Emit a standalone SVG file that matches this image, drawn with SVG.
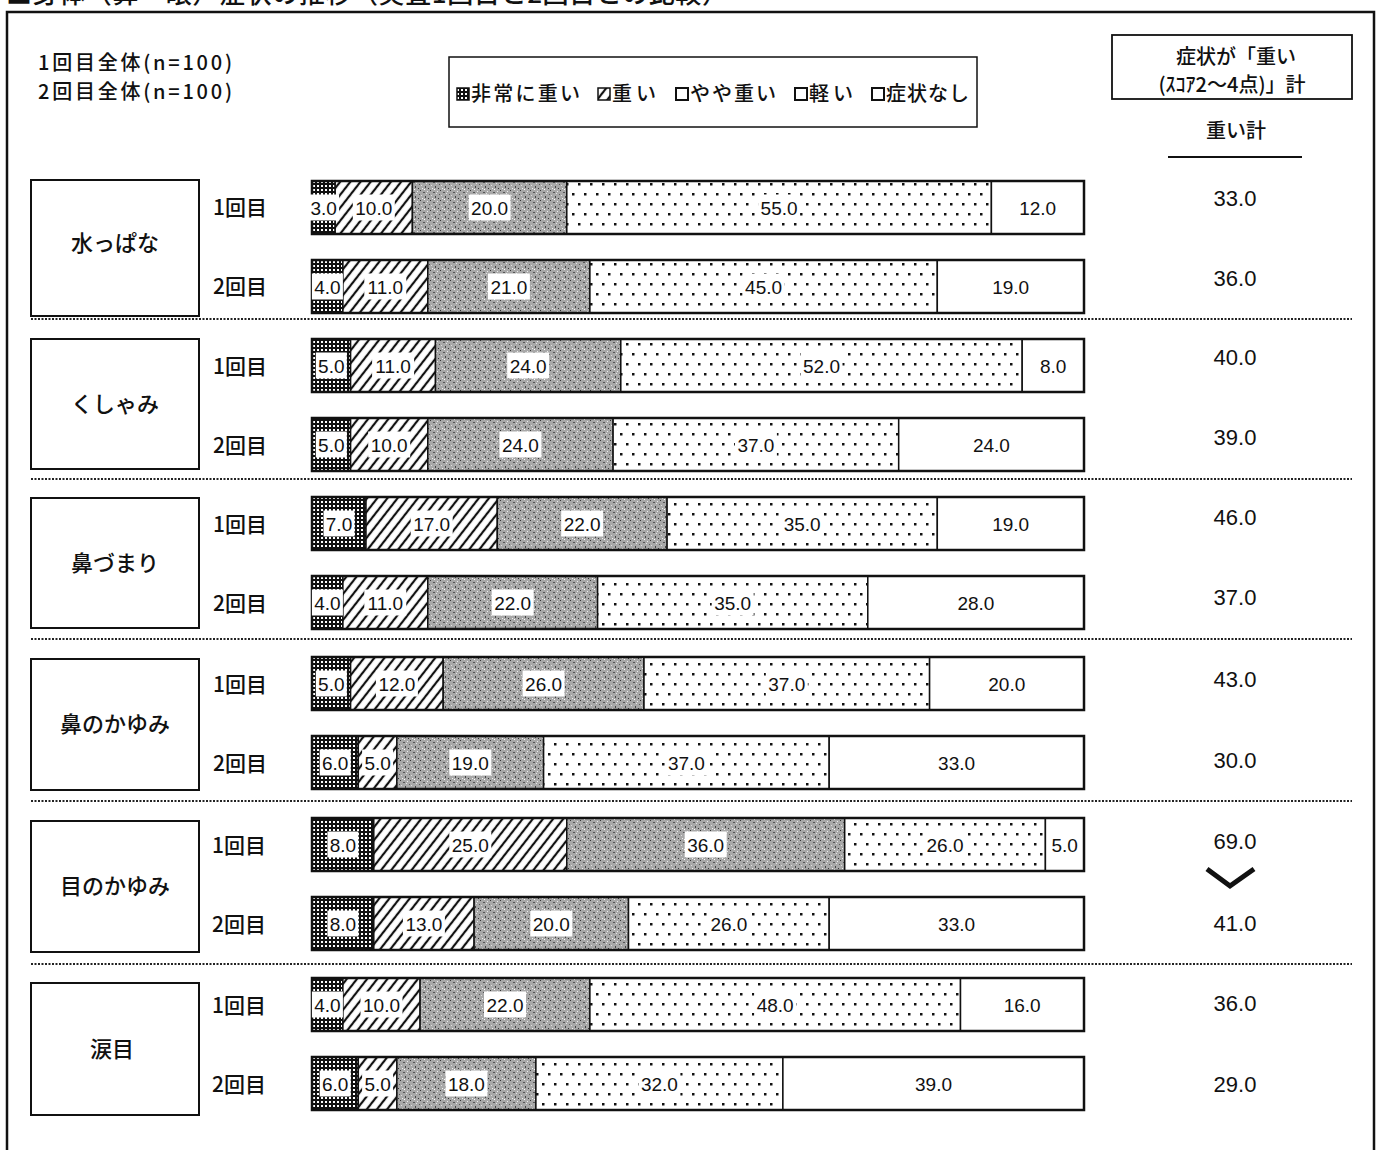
<svg xmlns="http://www.w3.org/2000/svg" width="1381" height="1150" viewBox="0 0 1381 1150">
<defs>
<pattern id="pDark" width="4" height="4" patternUnits="userSpaceOnUse"><rect width="4" height="4" fill="#111"/><rect x="1" y="1" width="2" height="2" fill="#fff"/></pattern>
<pattern id="pHatch" width="8" height="8" patternUnits="userSpaceOnUse" patternTransform="rotate(38)"><rect width="8" height="8" fill="#fff"/><line x1="4" y1="0" x2="4" y2="8" stroke="#111" stroke-width="2.2"/></pattern>
<pattern id="pGray" width="10" height="10" patternUnits="userSpaceOnUse"><rect width="10" height="10" fill="#a8a8a8"/><rect x="0" y="0" width="1" height="1" fill="#333"/><rect x="3" y="2" width="2" height="1" fill="#555"/><rect x="7" y="1" width="1" height="1" fill="#eee"/><rect x="1" y="5" width="1" height="1" fill="#e0e0e0"/><rect x="5" y="6" width="1" height="2" fill="#444"/><rect x="8" y="8" width="1" height="1" fill="#333"/><rect x="2" y="8" width="1" height="1" fill="#f2f2f2"/><rect x="9" y="4" width="1" height="1" fill="#555"/><rect x="6" y="3" width="1" height="1" fill="#e6e6e6"/><rect x="4" y="9" width="1" height="1" fill="#fff"/></pattern>
<pattern id="pDots" width="12" height="20" patternUnits="userSpaceOnUse"><rect width="12" height="20" fill="#fff"/><rect x="2" y="3" width="2.5" height="2.5" fill="#111"/><rect x="8" y="13" width="2.5" height="2.5" fill="#111"/></pattern>
<style>
.jp{font-family:"Noto Sans CJK JP",sans-serif;fill:#111;font-weight:500}
.v{font-family:"Liberation Sans",Arial,sans-serif;font-size:19px;text-anchor:middle;fill:#111}
.tot{font-family:"Liberation Sans",Arial,sans-serif;font-size:22px;text-anchor:middle;fill:#111}
.s1{fill:url(#pDark);stroke:#111;stroke-width:1.5}
.s2{fill:url(#pHatch);stroke:#111;stroke-width:1.5}
.s3{fill:url(#pGray);stroke:#111;stroke-width:1.5}
.s4{fill:url(#pDots);stroke:#111;stroke-width:1.5}
.s5{fill:#fff;stroke:#111;stroke-width:1.5}
.bar{fill:none;stroke:#111;stroke-width:2.5}
.lb{fill:#fff}
.box{fill:#fff;stroke:#111;stroke-width:2}
.sep{stroke:#222;stroke-width:2;stroke-dasharray:2 1.5}
.rnd{font-family:"Noto Sans CJK JP",sans-serif;font-size:21px;fill:#111;font-weight:500}
.cat{font-family:"Noto Sans CJK JP",sans-serif;font-size:22px;fill:#111;text-anchor:middle;font-weight:500}
</style>
</defs>
<rect width="1381" height="1150" fill="#fff"/>
<text class="jp" x="6" y="3" font-size="26" textLength="722">■身体（鼻・眼）症状の推移（実査1回目と2回目との比較）</text>
<g id="frame"><path d="M7 1150 V12 H1374 V1150" fill="none" stroke="#111" stroke-width="2.5"/></g>
<g id="header">
<text class="jp" x="38" y="70" font-size="20" textLength="194">1回目全体(n=100)</text>
<text class="jp" x="38" y="99" font-size="20" textLength="194">2回目全体(n=100)</text>
</g>
<g id="legend">
<rect x="449" y="57" width="528" height="70" fill="#fff" stroke="#111" stroke-width="1.5"/>
<rect x="457" y="88" width="12" height="12" fill="url(#pDark)" stroke="#111" stroke-width="1.5"/>
<text class="jp" x="471" y="101" font-size="20" textLength="109">非常に重い</text>
<rect x="598" y="88" width="12" height="12" fill="url(#pHatch)" stroke="#111" stroke-width="1.5"/>
<text class="jp" x="612" y="101" font-size="20" textLength="44">重い</text>
<rect x="676" y="88" width="12" height="12" fill="#fff" stroke="#111" stroke-width="2"/>
<text class="jp" x="690" y="101" font-size="20" textLength="86">やや重い</text>
<rect x="795" y="88" width="12" height="12" fill="#fff" stroke="#111" stroke-width="2"/>
<text class="jp" x="809" y="101" font-size="20" textLength="44">軽い</text>
<rect x="872" y="88" width="12" height="12" fill="#fff" stroke="#111" stroke-width="2"/>
<text class="jp" x="886" y="101" font-size="20" textLength="83">症状なし</text>
</g>
<g id="total-header">
<rect x="1112" y="35" width="240" height="64" fill="#fff" stroke="#111" stroke-width="1.8"/>
<text class="jp" x="1236" y="64" font-size="20" text-anchor="middle">症状が「重い</text>
<text class="jp" x="1232" y="92" font-size="20" text-anchor="middle">(ｽｺｱ2〜4点)」計</text>
<text class="jp" x="1236" y="138" font-size="20" text-anchor="middle">重い計</text>
<line x1="1168" y1="157" x2="1302" y2="157" stroke="#111" stroke-width="2"/>
</g>
<g id="connectors">
<line class="sep" x1="31" y1="319" x2="1352" y2="319"/>
<line class="sep" x1="31" y1="479" x2="1352" y2="479"/>
<line class="sep" x1="31" y1="639" x2="1352" y2="639"/>
<line class="sep" x1="31" y1="801" x2="1352" y2="801"/>
<line class="sep" x1="31" y1="964" x2="1352" y2="964"/>
<polyline points="1207,869 1230,886 1254,869" fill="none" stroke="#111" stroke-width="5"/>
</g>

<g id="g1">
<rect class="box" x="31" y="180" width="168" height="136"/>
<text class="cat" x="115" y="251">水っぱな</text>
<text class="rnd" x="213" y="215">1回目</text>
<text class="rnd" x="213" y="294">2回目</text>
<rect class="s1" x="312" y="181" width="23.2" height="53"/><rect class="s2" x="335.2" y="181" width="77.2" height="53"/><rect class="s3" x="412.4" y="181" width="154.4" height="53"/><rect class="s4" x="566.8" y="181" width="424.6" height="53"/><rect class="s5" x="991.4" y="181" width="92.6" height="53"/><rect class="bar" x="312" y="181" width="772" height="53"/>
<rect class="lb" x="308.1" y="194.5" width="31" height="26"/><text class="v" x="323.6" y="214.5">3.0</text>
<rect class="lb" x="352.8" y="194.5" width="42" height="26"/><text class="v" x="373.8" y="214.5">10.0</text>
<rect class="lb" x="468.6" y="194.5" width="42" height="26"/><text class="v" x="489.6" y="214.5">20.0</text>
<rect class="lb" x="758.1" y="194.5" width="42" height="26"/><text class="v" x="779.1" y="214.5">55.0</text>
<text class="v" x="1037.7" y="214.5">12.0</text>
<rect class="s1" x="312" y="260" width="30.9" height="53"/><rect class="s2" x="342.9" y="260" width="84.9" height="53"/><rect class="s3" x="427.8" y="260" width="162.1" height="53"/><rect class="s4" x="589.9" y="260" width="347.4" height="53"/><rect class="s5" x="937.3" y="260" width="146.7" height="53"/><rect class="bar" x="312" y="260" width="772" height="53"/>
<rect class="lb" x="311.9" y="273.5" width="31" height="26"/><text class="v" x="327.4" y="293.5">4.0</text>
<rect class="lb" x="364.3" y="273.5" width="42" height="26"/><text class="v" x="385.3" y="293.5">11.0</text>
<rect class="lb" x="487.9" y="273.5" width="42" height="26"/><text class="v" x="508.9" y="293.5">21.0</text>
<rect class="lb" x="742.6" y="273.5" width="42" height="26"/><text class="v" x="763.6" y="293.5">45.0</text>
<text class="v" x="1010.7" y="293.5">19.0</text>
<text class="tot" x="1235" y="206">33.0</text>
<text class="tot" x="1235" y="286">36.0</text>
</g>

<g id="g2">
<rect class="box" x="31" y="339" width="168" height="130"/>
<text class="cat" x="115" y="412">くしゃみ</text>
<text class="rnd" x="213" y="374">1回目</text>
<text class="rnd" x="213" y="453">2回目</text>
<rect class="s1" x="312" y="339" width="38.6" height="53"/><rect class="s2" x="350.6" y="339" width="84.9" height="53"/><rect class="s3" x="435.5" y="339" width="185.3" height="53"/><rect class="s4" x="620.8" y="339" width="401.4" height="53"/><rect class="s5" x="1022.2" y="339" width="61.8" height="53"/><rect class="bar" x="312" y="339" width="772" height="53"/>
<rect class="lb" x="315.8" y="352.5" width="31" height="26"/><text class="v" x="331.3" y="372.5">5.0</text>
<rect class="lb" x="372.1" y="352.5" width="42" height="26"/><text class="v" x="393.1" y="372.5">11.0</text>
<rect class="lb" x="507.2" y="352.5" width="42" height="26"/><text class="v" x="528.2" y="372.5">24.0</text>
<rect class="lb" x="800.5" y="352.5" width="42" height="26"/><text class="v" x="821.5" y="372.5">52.0</text>
<text class="v" x="1053.1" y="372.5">8.0</text>
<rect class="s1" x="312" y="418" width="38.6" height="53"/><rect class="s2" x="350.6" y="418" width="77.2" height="53"/><rect class="s3" x="427.8" y="418" width="185.3" height="53"/><rect class="s4" x="613.1" y="418" width="285.6" height="53"/><rect class="s5" x="898.7" y="418" width="185.3" height="53"/><rect class="bar" x="312" y="418" width="772" height="53"/>
<rect class="lb" x="315.8" y="431.5" width="31" height="26"/><text class="v" x="331.3" y="451.5">5.0</text>
<rect class="lb" x="368.2" y="431.5" width="42" height="26"/><text class="v" x="389.2" y="451.5">10.0</text>
<rect class="lb" x="499.4" y="431.5" width="42" height="26"/><text class="v" x="520.4" y="451.5">24.0</text>
<rect class="lb" x="734.9" y="431.5" width="42" height="26"/><text class="v" x="755.9" y="451.5">37.0</text>
<text class="v" x="991.4" y="451.5">24.0</text>
<text class="tot" x="1235" y="365">40.0</text>
<text class="tot" x="1235" y="445">39.0</text>
</g>

<g id="g3">
<rect class="box" x="31" y="498" width="168" height="130"/>
<text class="cat" x="115" y="571">鼻づまり</text>
<text class="rnd" x="213" y="532">1回目</text>
<text class="rnd" x="213" y="611">2回目</text>
<rect class="s1" x="312" y="497" width="54" height="53"/><rect class="s2" x="366" y="497" width="131.3" height="53"/><rect class="s3" x="497.3" y="497" width="169.8" height="53"/><rect class="s4" x="667.1" y="497" width="270.2" height="53"/><rect class="s5" x="937.3" y="497" width="146.7" height="53"/><rect class="bar" x="312" y="497" width="772" height="53"/>
<rect class="lb" x="323.5" y="510.5" width="31" height="26"/><text class="v" x="339" y="530.5">7.0</text>
<rect class="lb" x="410.7" y="510.5" width="42" height="26"/><text class="v" x="431.7" y="530.5">17.0</text>
<rect class="lb" x="561.2" y="510.5" width="42" height="26"/><text class="v" x="582.2" y="530.5">22.0</text>
<rect class="lb" x="781.2" y="510.5" width="42" height="26"/><text class="v" x="802.2" y="530.5">35.0</text>
<text class="v" x="1010.7" y="530.5">19.0</text>
<rect class="s1" x="312" y="576" width="30.9" height="53"/><rect class="s2" x="342.9" y="576" width="84.9" height="53"/><rect class="s3" x="427.8" y="576" width="169.8" height="53"/><rect class="s4" x="597.6" y="576" width="270.2" height="53"/><rect class="s5" x="867.8" y="576" width="216.2" height="53"/><rect class="bar" x="312" y="576" width="772" height="53"/>
<rect class="lb" x="311.9" y="589.5" width="31" height="26"/><text class="v" x="327.4" y="609.5">4.0</text>
<rect class="lb" x="364.3" y="589.5" width="42" height="26"/><text class="v" x="385.3" y="609.5">11.0</text>
<rect class="lb" x="491.7" y="589.5" width="42" height="26"/><text class="v" x="512.7" y="609.5">22.0</text>
<rect class="lb" x="711.7" y="589.5" width="42" height="26"/><text class="v" x="732.7" y="609.5">35.0</text>
<text class="v" x="975.9" y="609.5">28.0</text>
<text class="tot" x="1235" y="525">46.0</text>
<text class="tot" x="1235" y="605">37.0</text>
</g>

<g id="g4">
<rect class="box" x="31" y="659" width="168" height="131"/>
<text class="cat" x="115" y="732">鼻のかゆみ</text>
<text class="rnd" x="213" y="692">1回目</text>
<text class="rnd" x="213" y="771">2回目</text>
<rect class="s1" x="312" y="657" width="38.6" height="53"/><rect class="s2" x="350.6" y="657" width="92.6" height="53"/><rect class="s3" x="443.2" y="657" width="200.8" height="53"/><rect class="s4" x="644" y="657" width="285.6" height="53"/><rect class="s5" x="929.6" y="657" width="154.4" height="53"/><rect class="bar" x="312" y="657" width="772" height="53"/>
<rect class="lb" x="315.8" y="670.5" width="31" height="26"/><text class="v" x="331.3" y="690.5">5.0</text>
<rect class="lb" x="375.9" y="670.5" width="42" height="26"/><text class="v" x="396.9" y="690.5">12.0</text>
<rect class="lb" x="522.6" y="670.5" width="42" height="26"/><text class="v" x="543.6" y="690.5">26.0</text>
<rect class="lb" x="765.8" y="670.5" width="42" height="26"/><text class="v" x="786.8" y="690.5">37.0</text>
<text class="v" x="1006.8" y="690.5">20.0</text>
<rect class="s1" x="312" y="736" width="46.3" height="53"/><rect class="s2" x="358.3" y="736" width="38.6" height="53"/><rect class="s3" x="396.9" y="736" width="146.7" height="53"/><rect class="s4" x="543.6" y="736" width="285.6" height="53"/><rect class="s5" x="829.2" y="736" width="254.8" height="53"/><rect class="bar" x="312" y="736" width="772" height="53"/>
<rect class="lb" x="319.7" y="749.5" width="31" height="26"/><text class="v" x="335.2" y="769.5">6.0</text>
<rect class="lb" x="362.1" y="749.5" width="31" height="26"/><text class="v" x="377.6" y="769.5">5.0</text>
<rect class="lb" x="449.3" y="749.5" width="42" height="26"/><text class="v" x="470.3" y="769.5">19.0</text>
<rect class="lb" x="665.4" y="749.5" width="42" height="26"/><text class="v" x="686.4" y="769.5">37.0</text>
<text class="v" x="956.6" y="769.5">33.0</text>
<text class="tot" x="1235" y="687">43.0</text>
<text class="tot" x="1235" y="768">30.0</text>
</g>

<g id="g5">
<rect class="box" x="31" y="821" width="168" height="131"/>
<text class="cat" x="115" y="894">目のかゆみ</text>
<text class="rnd" x="212" y="853">1回目</text>
<text class="rnd" x="212" y="932">2回目</text>
<rect class="s1" x="312" y="818" width="61.8" height="53"/><rect class="s2" x="373.8" y="818" width="193" height="53"/><rect class="s3" x="566.8" y="818" width="277.9" height="53"/><rect class="s4" x="844.7" y="818" width="200.7" height="53"/><rect class="s5" x="1045.4" y="818" width="38.6" height="53"/><rect class="bar" x="312" y="818" width="772" height="53"/>
<rect class="lb" x="327.4" y="831.5" width="31" height="26"/><text class="v" x="342.9" y="851.5">8.0</text>
<rect class="lb" x="449.3" y="831.5" width="42" height="26"/><text class="v" x="470.3" y="851.5">25.0</text>
<rect class="lb" x="684.7" y="831.5" width="42" height="26"/><text class="v" x="705.7" y="851.5">36.0</text>
<rect class="lb" x="924" y="831.5" width="42" height="26"/><text class="v" x="945" y="851.5">26.0</text>
<text class="v" x="1064.7" y="851.5">5.0</text>
<rect class="s1" x="312" y="897" width="61.8" height="53"/><rect class="s2" x="373.8" y="897" width="100.3" height="53"/><rect class="s3" x="474.1" y="897" width="154.4" height="53"/><rect class="s4" x="628.5" y="897" width="200.7" height="53"/><rect class="s5" x="829.2" y="897" width="254.8" height="53"/><rect class="bar" x="312" y="897" width="772" height="53"/>
<rect class="lb" x="327.4" y="910.5" width="31" height="26"/><text class="v" x="342.9" y="930.5">8.0</text>
<rect class="lb" x="402.9" y="910.5" width="42" height="26"/><text class="v" x="423.9" y="930.5">13.0</text>
<rect class="lb" x="530.3" y="910.5" width="42" height="26"/><text class="v" x="551.3" y="930.5">20.0</text>
<rect class="lb" x="707.9" y="910.5" width="42" height="26"/><text class="v" x="728.9" y="930.5">26.0</text>
<text class="v" x="956.6" y="930.5">33.0</text>
<text class="tot" x="1235" y="849">69.0</text>
<text class="tot" x="1235" y="931">41.0</text>
</g>

<g id="g6">
<rect class="box" x="31" y="983" width="168" height="132"/>
<text class="cat" x="112" y="1057">涙目</text>
<text class="rnd" x="212" y="1013">1回目</text>
<text class="rnd" x="212" y="1092">2回目</text>
<rect class="s1" x="312" y="978" width="30.9" height="53"/><rect class="s2" x="342.9" y="978" width="77.2" height="53"/><rect class="s3" x="420.1" y="978" width="169.8" height="53"/><rect class="s4" x="589.9" y="978" width="370.6" height="53"/><rect class="s5" x="960.5" y="978" width="123.5" height="53"/><rect class="bar" x="312" y="978" width="772" height="53"/>
<rect class="lb" x="311.9" y="991.5" width="31" height="26"/><text class="v" x="327.4" y="1011.5">4.0</text>
<rect class="lb" x="360.5" y="991.5" width="42" height="26"/><text class="v" x="381.5" y="1011.5">10.0</text>
<rect class="lb" x="484" y="991.5" width="42" height="26"/><text class="v" x="505" y="1011.5">22.0</text>
<rect class="lb" x="754.2" y="991.5" width="42" height="26"/><text class="v" x="775.2" y="1011.5">48.0</text>
<text class="v" x="1022.2" y="1011.5">16.0</text>
<rect class="s1" x="312" y="1057" width="46.3" height="53"/><rect class="s2" x="358.3" y="1057" width="38.6" height="53"/><rect class="s3" x="396.9" y="1057" width="139" height="53"/><rect class="s4" x="535.9" y="1057" width="247" height="53"/><rect class="s5" x="782.9" y="1057" width="301.1" height="53"/><rect class="bar" x="312" y="1057" width="772" height="53"/>
<rect class="lb" x="319.7" y="1070.5" width="31" height="26"/><text class="v" x="335.2" y="1090.5">6.0</text>
<rect class="lb" x="362.1" y="1070.5" width="31" height="26"/><text class="v" x="377.6" y="1090.5">5.0</text>
<rect class="lb" x="445.4" y="1070.5" width="42" height="26"/><text class="v" x="466.4" y="1090.5">18.0</text>
<rect class="lb" x="638.4" y="1070.5" width="42" height="26"/><text class="v" x="659.4" y="1090.5">32.0</text>
<text class="v" x="933.5" y="1090.5">39.0</text>
<text class="tot" x="1235" y="1011">36.0</text>
<text class="tot" x="1235" y="1092">29.0</text>
</g>
</svg>
